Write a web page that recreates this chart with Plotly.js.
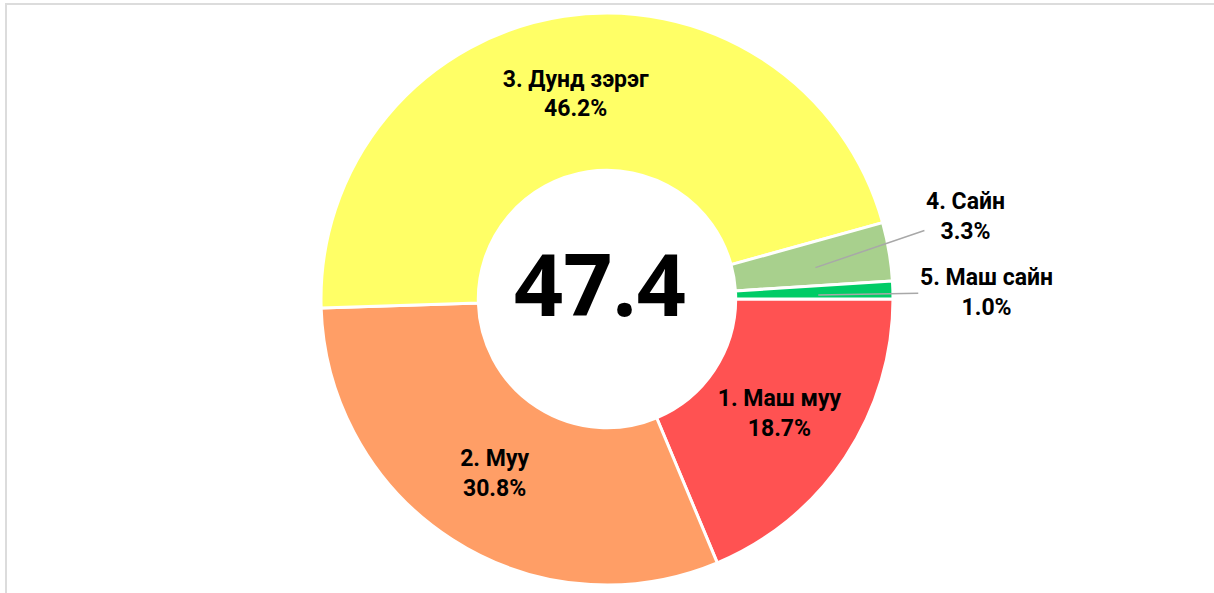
<!DOCTYPE html>
<html>
<head>
<meta charset="utf-8">
<script src="https://cdn.plot.ly/plotly-3.0.1.min.js"></script>
<style>
  html, body { margin: 0; padding: 0; background: #fff; }
  #frame { position: absolute; left: 5px; top: 3px; width: 1209px; height: 590px;
           border-top: 2px solid #dcdcdc; border-left: 2px solid #dcdcdc; box-sizing: border-box; }
  #chart { position: absolute; left: 0; top: 0; width: 1214px; height: 593px; }
</style>
</head>
<body>
<div id="frame"></div>
<div id="chart"></div>
<script>
// ---- data ----
const categories = ["1. Маш муу", "2. Муу", "3. Дунд зэрэг", "4. Сайн", "5. Маш сайн"];
const values = [18.7, 30.8, 46.2, 3.3, 1.0];
const colors = ["#FF5252", "#FF9E66", "#FFFF66", "#A8D08D", "#00CC66"];
const centerValue = "47.4";
const outsideLabels = [false, false, false, true, true];

// ---- layout constants ----
const W = 1214, H = 593;
const M = { l: 0, r: 0, t: 13, b: 8 };
const HOLE = 0.45;
const R = (H - M.t - M.b) / 2;
const cx = M.l + (W - M.l - M.r) / 2;
const cy = M.t + R;
const FS = 23;
const labelOffsets = { 3: { ax: 150, ay: -51 }, 4: { ax: 168, ay: -3 } };

const total = values.reduce((a, b) => a + b, 0);
const texts = values.map((v, i) => outsideLabels[i] ? "" : categories[i] + "<br>" + v.toFixed(1) + "%");

const annotations = [{
  text: centerValue, x: 0.5, y: 1 - cy / H, xref: "paper", yref: "paper",
  showarrow: false, xanchor: "center", yanchor: "middle", xshift: -7, yshift: 19,
  font: { family: "Open Sans, Noto Sans, sans-serif", size: 86, color: "#000", weight: 700 }
}];

let cum = 0;
values.forEach((v, i) => {
  const mid = (cum + v / 2) / total;
  cum += v;
  if (!outsideLabels[i]) return;
  const ang = mid * 2 * Math.PI;            // clockwise from 3 o'clock
  const rr = R * (1 + HOLE) / 2 + 4;
  const px = cx + rr * Math.cos(ang);
  const py = cy + rr * Math.sin(ang);
  annotations.push({
    text: "<b>" + categories[i] + "</b><br><b>" + v.toFixed(1) + "%</b>",
    x: px / W, y: 1 - py / H, xref: "paper", yref: "paper",
    showarrow: true, arrowhead: 0, arrowwidth: 1.5, arrowcolor: "#a8a8a8",
    ax: labelOffsets[i].ax, ay: labelOffsets[i].ay, standoff: 0,
    align: "center",
    font: { family: "Roboto, sans-serif", size: FS, color: "#000" }
  });
});

const trace = {
  type: "pie",
  labels: categories,
  values: values,
  text: texts,
  textinfo: "text",
  hole: HOLE,
  sort: false,
  direction: "clockwise",
  rotation: 90,
  marker: { colors: colors, line: { color: "#ffffff", width: 3 } },
  textposition: "inside",
  insidetextorientation: "horizontal",
  textfont: { family: "Roboto, sans-serif", size: FS, color: "#000", weight: 700 },
  hoverinfo: "label+value",
  showlegend: false
};

const layout = {
  width: W, height: H,
  margin: M,
  paper_bgcolor: "rgba(0,0,0,0)",
  plot_bgcolor: "rgba(0,0,0,0)",
  showlegend: false,
  annotations: annotations
};

Plotly.newPlot("chart", [trace], layout, { displayModeBar: false, staticPlot: true });
</script>
</body>
</html>
